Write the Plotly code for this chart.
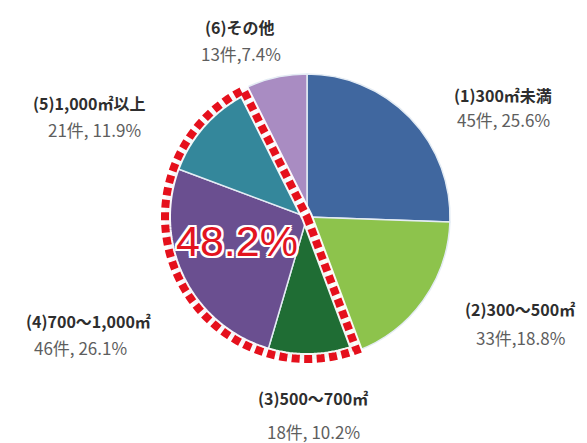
import numpy as np
import plotly.graph_objects as go

W, H = 587, 443

# ---- data -------------------------------------------------------------
categories = ["(1)300㎡未満", "(2)300～500㎡", "(3)500～700㎡",
              "(4)700～1,000㎡", "(5)1,000㎡以上", "(6)その他"]
counts = [45, 33, 18, 46, 21, 13]
percents = [25.6, 18.8, 10.2, 26.1, 11.9, 7.4]
count_sep = [", ", ",", ", ", ", ", ", ", ","]
grouped = [2, 3, 4]          # slices enclosed by the dashed outline

# ---- style ------------------------------------------------------------
colors = ["#40679F", "#8DC34C", "#1F6D34", "#6A4F90", "#34879B", "#A98CC2"]

# pie placement in pixels
cx, cy, r = 307, 217, 143

# label anchors (pixel centres of the two text lines)
line1_pos = [(503, 95), (520, 309), (313, 398), (88, 321), (89, 103), (240, 27)]
line2_pos = [(503, 120), (520, 337), (313, 431), (80, 347), (94, 129), (241, 53)]


def px2paper(x, y):
    return x / W, 1 - y / H


fig = go.Figure()
fig.add_trace(go.Pie(
    values=counts,
    labels=categories,
    sort=False,
    direction="clockwise",
    rotation=0,
    marker=dict(colors=colors, line=dict(color="#e4ecf4", width=1.5)),
    textinfo="none",
    hoverinfo="label+value+percent",
    showlegend=False,
    domain=dict(x=[(cx - r) / W, (cx + r) / W],
                y=[1 - (cy + r) / H, 1 - (cy - r) / H]),
))

# ---- dashed outline around the grouped sector -------------------------
total = sum(counts)
f_start = sum(counts[:grouped[0]]) / total
f_end = sum(counts[:grouped[-1] + 1]) / total
theta = np.linspace(2 * np.pi * f_start, 2 * np.pi * f_end, 120)
rd = r - 1
xs = cx + rd * np.sin(theta)
ys = cy - rd * np.cos(theta)

pts = [px2paper(cx, cy)] + [px2paper(x, y) for x, y in zip(xs, ys)]
path = "M " + " L ".join(f"{x:.5f},{y:.5f}" for x, y in pts) + " Z"

fig.add_shape(type="path", path=path, xref="paper", yref="paper",
              line=dict(color="rgba(255,255,255,0.95)", width=12),
              layer="above")
fig.add_shape(type="path", path=path, xref="paper", yref="paper",
              line=dict(color="#E5101C", width=8, dash="8px,4.5px"),
              layer="above")

# ---- grouped share label ---------------------------------------------
group_pct = round(sum(percents[i] for i in grouped), 1)
halo = ", ".join(f"{dx}px {dy}px 0 #fff" for dx in (-2, 0, 2) for dy in (-2, 0, 2)
                 if (dx, dy) != (0, 0))
gx, gy = px2paper(237, 241)
fig.add_annotation(x=gx, y=gy, xref="paper", yref="paper",
                   text=f"{group_pct}%", showarrow=False,
                   xanchor="center", yanchor="middle",
                   font=dict(family="Liberation Sans, Arial, sans-serif",
                             size=43, color="#E3141F", shadow=halo))

# ---- category labels --------------------------------------------------
label_font = "Noto Sans CJK JP, Noto Sans, sans-serif"
for i, cat in enumerate(categories):
    x1, y1 = px2paper(*line1_pos[i])
    fig.add_annotation(x=x1, y=y1, xref="paper", yref="paper", text=cat,
                       showarrow=False, xanchor="center", yanchor="middle",
                       font=dict(family=label_font, size=16, color="#2e2e2e",
                                 weight="bold"))
    x2, y2 = px2paper(*line2_pos[i])
    fig.add_annotation(x=x2, y=y2, xref="paper", yref="paper",
                       text=f"{counts[i]}件{count_sep[i]}{percents[i]}%",
                       showarrow=False, xanchor="center", yanchor="middle",
                       font=dict(family=label_font, size=17, color="#5e5e5e"))

fig.update_layout(
    width=W, height=H,
    margin=dict(l=0, r=0, t=0, b=0),
    paper_bgcolor="white",
    plot_bgcolor="white",
)

fig.write_html("out.html")
